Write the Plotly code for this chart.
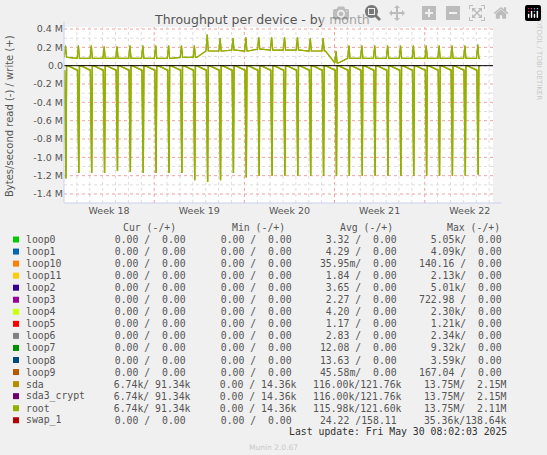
import plotly.graph_objects as go

# ---- data (per day, in MB/s) ----
days = list(range(33))
write_base = [0.09,0.08,0.08,0.08,0.08,0.08,0.08,0.08,0.08,0.09,0.09,0.16,0.16,0.17,0.16,0.18,0.17,0.17,0.17,0.16,0.16,0.03,0.08,0.08,0.08,0.08,0.08,0.08,0.08,0.08,0.08,0.08,0.08]
write_peak = [0.22,0.22,0.22,0.21,0.21,0.22,0.22,0.22,0.22,0.22,0.22,0.34,0.30,0.30,0.31,0.31,0.31,0.31,0.31,0.30,0.30,0.16,0.22,0.22,0.22,0.22,0.22,0.22,0.22,0.22,0.22,0.22,0.23]
read_peak = [-1.23,-1.17,-1.17,-1.17,-1.15,-1.16,-1.17,-1.17,-1.17,-1.17,-1.25,-1.27,-1.25,-1.17,-1.22,-1.2,-1.2,-1.2,-1.2,-1.2,-1.2,-1.2,-1.2,-1.2,-1.2,-1.2,-1.2,-1.2,-1.2,-1.2,-1.2,-1.2,-1.19]
y_ticks = [0.4,0.2,0.0,-0.2,-0.4,-0.6,-0.8,-1.0,-1.2,-1.4]
y_labels = ["0.4 M","0.2 M","0.0","-0.2 M","-0.4 M","-0.6 M","-0.8 M","-1.0 M","-1.2 M","-1.4 M"]
week_pos = [3.5,10.5,17.5,24.5,31.5]
week_labels = ["Week 18","Week 19","Week 20","Week 21","Week 22"]

names = ["loop0","loop1","loop10","loop11","loop2","loop3","loop4","loop5","loop6","loop7","loop8","loop9","sda","sda3_crypt","root","swap_1"]
colors = ["#00CC00","#0066B3","#FF8000","#FFCC00","#330099","#990099","#CCFF00","#FF0000","#808080","#008F00","#00487D","#B35A00","#B38F00","#6B006B","#8FB300","#B30000"]
cur = [("0.00 ","0.00 ")]*12 + [("6.74k","91.34k")]*3 + [("0.00 ","0.00 ")]
mn = [("0.00 ","0.00 ")]*12 + [("0.00 ","14.36k")]*3 + [("0.00 ","0.00 ")]
avg = [("3.32 ","0.00 "),("4.29 ","0.00 "),("35.95m","0.00 "),("1.84 ","0.00 "),("3.65 ","0.00 "),("2.27 ","0.00 "),("4.20 ","0.00 "),("1.17 ","0.00 "),("2.83 ","0.00 "),("12.08 ","0.00 "),("13.63 ","0.00 "),("45.58m","0.00 "),("116.00k","121.76k"),("116.00k","121.76k"),("115.98k","121.60k"),("24.22 ","158.11 ")]
mx = [("5.05k","0.00 "),("4.09k","0.00 "),("140.16 ","0.00 "),("2.13k","0.00 "),("5.01k","0.00 "),("722.98 ","0.00 "),("2.30k","0.00 "),("1.21k","0.00 "),("2.34k","0.00 "),("9.32k","0.00 "),("3.59k","0.00 "),("167.04 ","0.00 "),("13.75M","2.15M"),("13.75M","2.15M"),("13.75M","2.11M"),("35.36k","138.64k")]

# ---- build series ----
wx, wy, rx, ry = [], [], [], []
for d, b, p, r in zip(days, write_base, write_peak, read_peak):
    wx += [d+0.02, d+0.12, d+0.2, d+0.3]; wy += [b, p, b, b]
    rx += [d+0.05, d+0.15, d+0.2, d+0.3]; ry += [-0.05, r, 0, 0]

fig = go.Figure()
for c in ["#B38F00", "#8FB300"]:
    fig.add_trace(go.Scatter(x=wx, y=wy, mode="lines", line=dict(color=c, width=1.2), hoverinfo="skip"))
    fig.add_trace(go.Scatter(x=rx, y=ry, mode="lines", line=dict(color=c, width=1.4), hoverinfo="skip"))
fig.add_trace(go.Scatter(x=[0, 33.3], y=[0, 0], mode="lines", line=dict(color="black", width=1), hoverinfo="skip"))

W, H = 547, 455
L, R, T, B = 64, 493, 27, 203
def px(x): return (x-L)/(R-L)
def py(y): return (B-y)/(B-T)

shapes = []
for d in range(1, 34):
    if d % 7 != 0:
        shapes.append(dict(type="line", xref="x", yref="paper", x0=d, x1=d, y0=0, y1=1, line=dict(color="#DDDDDD", width=1, dash="dot"), layer="below"))
for d in [7, 14, 21, 28]:
    shapes.append(dict(type="line", xref="x", yref="paper", x0=d, x1=d, y0=0, y1=1, line=dict(color="#F0A0A0", width=1, dash="dot"), layer="below"))
for v in [0.3,0.1,-0.1,-0.3,-0.5,-0.7,-0.9,-1.1,-1.3]:
    shapes.append(dict(type="line", xref="paper", yref="y", x0=0, x1=1, y0=v, y1=v, line=dict(color="#DDDDDD", width=1, dash="dot"), layer="below"))
for v in y_ticks:
    shapes.append(dict(type="line", xref="paper", yref="y", x0=0, x1=1, y0=v, y1=v, line=dict(color="#F0A0A0", width=1, dash="dot"), layer="below"))
shapes.append(dict(type="line", xref="paper", yref="paper", x0=0, x1=0, y0=0, y1=1.03, line=dict(color="#C8D0F0", width=1)))
shapes.append(dict(type="line", xref="paper", yref="paper", x0=0, x1=1.02, y0=0, y1=0, line=dict(color="#C8D0F0", width=1)))

mono = "DejaVu Sans Mono"
ann = []
def text(x, y, s, anchor="left", size=9.8, color="#555555", family=mono, **kw):
    ann.append(dict(xref="paper", yref="paper", x=px(x), y=py(y), text=s, showarrow=False, xanchor=anchor, yanchor="middle", font=dict(family=family, size=size, color=color), **kw))

for xr, h in zip([178, 287, 395, 502], ["Cur (-/+)", "Min (-/+)", "Avg (-/+)", "Max (-/+)"]):
    text(xr, 227.5, h, anchor="right")
for i, n in enumerate(names):
    yy = 239.5 + i*12.05
    shapes.append(dict(type="rect", xref="paper", yref="paper", x0=px(13), x1=px(19), y0=py(yy+3), y1=py(yy-3), fillcolor=colors[i], line=dict(width=0)))
    text(24, yy, n)
    for xr, f in zip([193, 299, 404, 509], [cur[i], mn[i], avg[i], mx[i]]):
        text(xr, yy, f"{f[0]:>7}/{f[1]:>7}".replace(" ", "&nbsp;"), anchor="right")
text(509, 431.5, "Last update: Fri May 30 08:02:03 2025", anchor="right", color="#333333")
text(273, 447, "Munin 2.0.67", anchor="center", size=7.5, color="#C8C8C8", family="DejaVu Sans")
text(262, 19, "Throughput per device - by month", anchor="center", size=12.5, color="#555555", family="DejaVu Sans")
text(10, 116, "Bytes/second read (-) / write (+)", anchor="center", size=10, color="#555555", family="DejaVu Sans", textangle=-90)
text(539, 55, "RRDTOOL / TOBI OETIKER", anchor="center", size=7, color="#C8C8C8", family="DejaVu Sans", textangle=90)

fig.update_layout(
    width=W, height=H, showlegend=False,
    paper_bgcolor="#F0F0F0", plot_bgcolor="white",
    margin=dict(l=L, r=W-R, t=T, b=H-B),
    xaxis=dict(range=[0, 33.3], showgrid=False, zeroline=False, tickvals=week_pos, ticktext=week_labels, ticks="",
               tickfont=dict(family="DejaVu Sans", size=9.5, color="#555555")),
    yaxis=dict(range=[-1.498, 0.422], showgrid=False, zeroline=False, tickvals=y_ticks, ticktext=y_labels, ticks="",
               tickfont=dict(family="DejaVu Sans", size=9.5, color="#555555")),
    shapes=shapes, annotations=ann,
)
fig.write_html("out.html")
with open("out.html", encoding="utf-8") as fh:
    page = fh.read()
page = page.replace("<body>", '<body style="margin:0;padding:0;overflow:hidden;background:#F0F0F0">', 1)
with open("out.html", "w", encoding="utf-8") as fh:
    fh.write(page)
